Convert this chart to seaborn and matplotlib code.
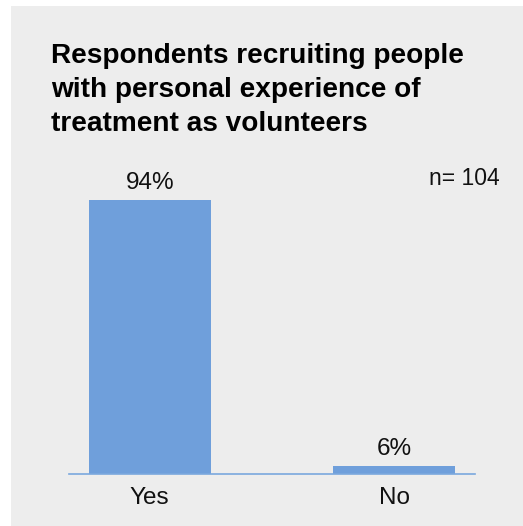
import matplotlib
matplotlib.use("Agg")
import matplotlib.pyplot as plt
import seaborn as sns
import pandas as pd
from matplotlib.patches import Rectangle

categories = ["Yes", "No"]
values = [94, 6]
value_labels = ["94%", "6%"]
title_lines = ["Respondents recruiting people", "with personal experience of", "treatment as volunteers"]
n_text = "n= 104"

sns.set_theme(style="white")
plt.rcParams["font.family"] = ["Liberation Sans", "DejaVu Sans"]

W, H = 523, 526
fig = plt.figure(figsize=(W / 100, H / 100), dpi=100, facecolor="white")
bg = "#ededed"
fig.patches.append(Rectangle((11 / W, 0), 1 - 11 / W + 0.01, 1 - 6 / H, transform=fig.transFigure,
                             facecolor=bg, edgecolor="none", zorder=-10))

ax_left, ax_right = 69 / W, 475 / W
ax_bottom = (H - 474) / H
ax_top = (H - 182) / H
ax = fig.add_axes([ax_left, ax_bottom, ax_right - ax_left, ax_top - ax_bottom])
ax.set_facecolor("none")
ax.set_zorder(5)

df = pd.DataFrame({"category": categories, "value": values})
bar_color = "#6f9fdb"
sns.barplot(data=df, x="category", y="value", color=bar_color, saturation=1,
            width=0.5, linewidth=0, edgecolor="none", ax=ax)

ax.set_xlim(-0.33, 1.33)
ax.set_ylim(3.25, 100)
for s in ["top", "right", "left"]:
    ax.spines[s].set_visible(False)
ax.spines["bottom"].set_color("#7aa8de")
ax.spines["bottom"].set_linewidth(1.2)
ax.set_yticks([])
ax.set_xlabel("")
ax.set_ylabel("")
ax.tick_params(axis="x", length=0, pad=9.5, labelsize=17.5, labelcolor="#111111")

for i, (v, lab) in enumerate(zip(values, value_labels)):
    ax.annotate(lab, xy=(i, v), xytext=(0, 8), textcoords="offset points",
                ha="center", va="baseline", fontsize=17.5, color="#111111")

title_baselines = [63, 97, 131]
for line, yb in zip(title_lines, title_baselines):
    fig.text(51 / W, 1 - yb / H, line, ha="left", va="baseline", fontsize=20.2,
             fontweight="bold", color="#000000")

fig.text(500 / W, 1 - 185 / H, n_text, ha="right", va="baseline", fontsize=16.5,
         color="#111111")

fig.savefig("out.png", dpi=100, facecolor="white")
